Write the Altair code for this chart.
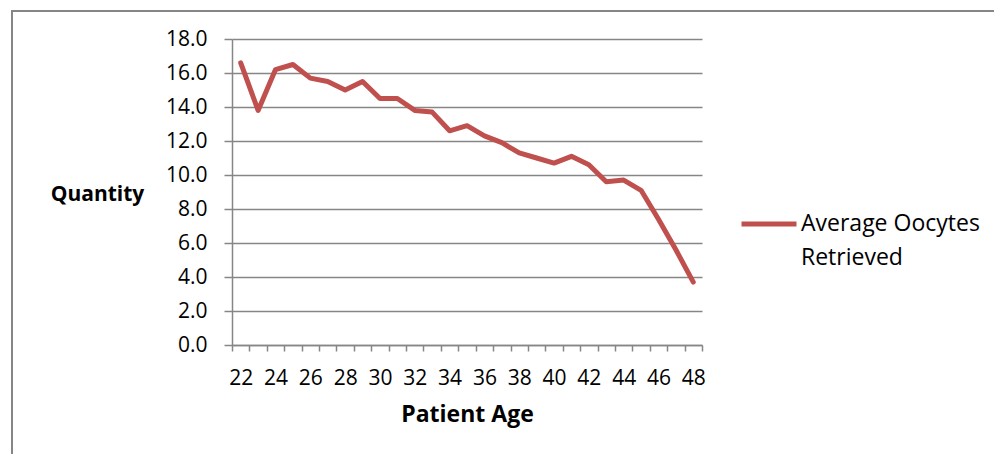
import altair as alt
import pandas as pd

ages = list(range(22, 49))
oocytes = [16.6, 13.8, 16.2, 16.5, 15.7, 15.5, 15.0, 15.5, 14.5, 14.5,
           13.8, 13.7, 12.6, 12.9, 12.3, 11.9, 11.3, 11.0, 10.7, 11.1,
           10.6, 9.6, 9.7, 9.1, 7.4, 5.6, 3.7]
series_name = "Average Oocytes Retrieved"
legend_lines = ["Average Oocytes", "Retrieved"]
line_color = "#C0504D"
grey = "#868686"
FONT = "Open Sans"

df = pd.DataFrame({"age": ages, "value": oocytes, "series": [series_name] * len(ages)})

W, H = 470, 306

line = alt.Chart(df).mark_line(strokeWidth=5, strokeJoin="round", strokeCap="round").encode(
    x=alt.X("age:O",
            scale=alt.Scale(type="band", paddingInner=0, paddingOuter=0),
            axis=alt.Axis(title="Patient Age", labelAngle=0,
                          labelExpr="datum.value % 2 == 0 ? datum.label : ''",
                          tickBand="extent", tickSize=6, tickColor=grey, tickWidth=1.5,
                          domainColor=grey, domainWidth=1.5, grid=False,
                          labelFont=FONT, labelFontSize=21, labelColor="black",
                          labelPadding=16, labelOverlap=False,
                          titleFont=FONT, titleFontSize=23, titleFontWeight="bold",
                          titleColor="black", titleBaseline="alphabetic", titleY=76)),
    y=alt.Y("value:Q",
            scale=alt.Scale(domain=[0, 18], nice=False, zero=True),
            axis=alt.Axis(title="Quantity", values=[0, 2, 4, 6, 8, 10, 12, 14, 16, 18], format=".1f",
                          tickSize=8, tickColor=grey, tickWidth=1.5,
                          domainColor=grey, domainWidth=1.5,
                          grid=True, gridColor=grey, gridWidth=1.5,
                          labelFont=FONT, labelFontSize=21, labelColor="black", labelPadding=17,
                          titleFont=FONT, titleFontSize=21, titleFontWeight="bold", titleColor="black",
                          titleAngle=0, titleAlign="center", titleBaseline="alphabetic",
                          titleX=-135, titleY=161)),
    color=alt.Color("series:N",
                    scale=alt.Scale(domain=[series_name], range=[line_color]),
                    legend=alt.Legend(title=None, orient="none", legendX=507, legendY=155,
                                      symbolType="stroke", symbolSize=3025, symbolStrokeWidth=5,
                                      labelExpr="['Average Oocytes', 'Retrieved']",
                                      labelFont=FONT, labelFontSize=23, labelColor="black",
                                      labelOffset=2, labelLimit=400, padding=0)),
)

border = alt.Chart(pd.DataFrame({"k": [0]})).mark_rect(
    fill=None, stroke=grey, strokeWidth=2, clip=False
).encode(
    x=alt.value(-220), x2=alt.value(2000), y=alt.value(-28), y2=alt.value(2000)
)

chart = alt.layer(border, line).properties(
    width=W, height=H,
    autosize=alt.AutoSizeParams(type="none"),
    padding={"left": 224, "top": 31, "right": 292, "bottom": 109},
).configure(
    style={"guide-label": {"lineHeight": 34}}
).configure_view(stroke=None)

chart.save("out.html", embed_options={"renderer": "svg", "actions": False})
